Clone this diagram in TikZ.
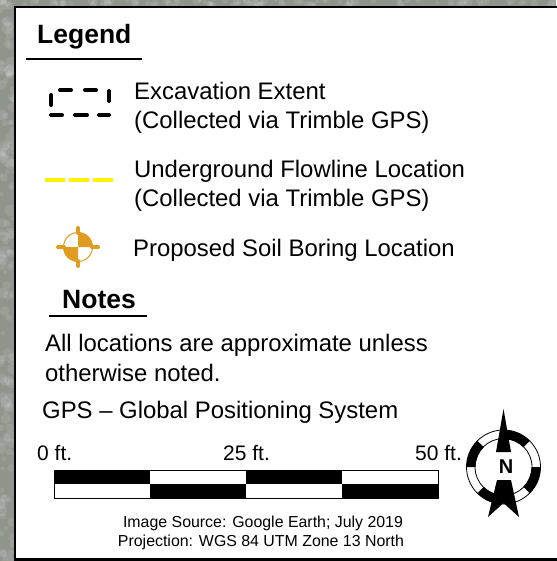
\documentclass[tikz,border=0pt]{standalone}
\usepackage{fontspec}
\setmainfont{Liberation Sans}
\definecolor{bggray}{HTML}{8F948C}
\definecolor{boring}{HTML}{E09C20}
\tikzset{
  label20/.style={anchor=base west,inner sep=0pt,font=\fontsize{23.9}{28}\selectfont},
  scalelabel/.style={anchor=base west,inner sep=0pt,font=\fontsize{21}{24}\selectfont},
  small14/.style={anchor=base,inner sep=0pt,font=\fontsize{15.9}{20}\selectfont},
  head/.style={anchor=base west,inner sep=0pt,font=\fontsize{26.5}{30}\selectfont\bfseries},
  rule/.style={line width=2pt},
  dashline/.style={line width=4pt,line cap=round},
}
\begin{document}
\begin{tikzpicture}[x=1pt,y=-1pt]
  \useasboundingbox (0,0) rectangle (556,561);
  \fill[bggray] (0,0) rectangle (556,561);
  % speckle of the photo
  \pgfmathsetseed{7}
  \foreach \i in {1,...,130}{
    \pgfmathsetmacro{\py}{rnd*561}
    \pgfmathsetmacro{\px}{rnd*14}
    \pgfmathsetmacro{\rr}{2+rnd*4}
    \fill[white,opacity=0.10] (\px,\py) circle (\rr);
  }
  \foreach \i in {1,...,110}{
    \pgfmathsetmacro{\py}{rnd*6}
    \pgfmathsetmacro{\px}{rnd*556}
    \pgfmathsetmacro{\rr}{1.5+rnd*3}
    \fill[white,opacity=0.10] (\px,\py) circle (\rr);
  }
  \draw[line width=2.6pt,fill=white] (15,7) rectangle (560,559.5);
  % headings
  \node[head] (legend) at (37,43.3) {Legend};
  \coordinate (legl) at (26,59);
  \coordinate (legr) at (142,59);
  \draw[rule] (legl) -- (legr);
  \node[head] (notes) at (62,308.3) {Notes};
  \coordinate (notl) at (49,316);
  \coordinate (notr) at (147,316);
  \draw[rule] (notl) -- (notr);
  % symbols
  \draw[dashline] (51,115) -- (62,115) (75,115) -- (87,115) (99,115) -- (109,115);
  \draw[dashline] (60,90) -- (71,90) (85,90) -- (96,90);
  \draw[dashline] (51,95) -- (51,105) (109,91) -- (109,101);
  \draw[yellow,line width=4pt] (45,180) -- (65,180) (69,180) -- (89,180) (93,180) -- (113,180);
  \draw[boring,line width=1pt] (78,247) circle (14.5);
  \fill[boring] (78,247) -- (63.5,247) arc (180:90:14.5) -- cycle;
  \fill[boring] (78,247) -- (92.5,247) arc (0:-90:14.5) -- cycle;
  \draw[boring,line width=4pt,line cap=round] (58,247) -- (64,247) (92,247) -- (98,247) (78,228) -- (78,233) (78,261) -- (78,266);
  % legend texts
  \node[label20] (exc) at (134,100) {Excavation Extent};
  \node[label20] (exc2) at (134,129) {(Collected via Trimble GPS)};
  \node[label20] (flo) at (134,178) {Underground Flowline Location};
  \node[label20] (flo2) at (134,206) {(Collected via Trimble GPS)};
  \node[label20] (bor) at (133,256.7) {Proposed Soil Boring Location};
  \node[label20] (all) at (45,351.7) {All locations are approximate unless};
  \node[label20] (oth) at (45,381) {otherwise noted.};
  \node[label20] (gps) at (42,418) {GPS -- Global Positioning System};
  % scale bar
  \node[scalelabel] (s0) at (37,460.3) {0 ft.};
  \node[scalelabel] (s25) at (223,460.3) {25 ft.};
  \node[scalelabel] (s50) at (415,460.3) {50 ft.};
  \draw[line width=1pt] (54,470) rectangle (438,498);
  \fill (54,470) rectangle (150,484);
  \fill (150,484) rectangle (246,498);
  \fill (246,470) rectangle (342,484);
  \fill (342,484) rectangle (438,498);
  % north arrow
  \draw[line width=.8pt] (503.5,467) circle (37);
  \draw[line width=.8pt] (503.5,467) circle (28.5);
  \foreach \a/\b in {135/90,45/0,-45/-90,225/180}{
    \fill (503.5,467) ++(\a:37) arc (\a:\b:37) -- ++(\b+180:9) arc (\b:\a:28) -- cycle;
  }
  \fill (503.5,409) -- (511,452) -- (496,452) -- cycle;
  \fill (497,480) -- (511,480) -- (519,517) -- (503.5,503) -- (488,517) -- cycle;
  \node[inner sep=0pt,font=\fontsize{20}{24}\selectfont\bfseries] (north) at (506,467) {N};
  % source
  \node[small14] (src) at (263,527.7) {Image Source: Google Earth; July 2019};
  \node[small14] (prj) at (261,546.3) {Projection: WGS 84 UTM Zone 13 North};
\end{tikzpicture}
\end{document}
